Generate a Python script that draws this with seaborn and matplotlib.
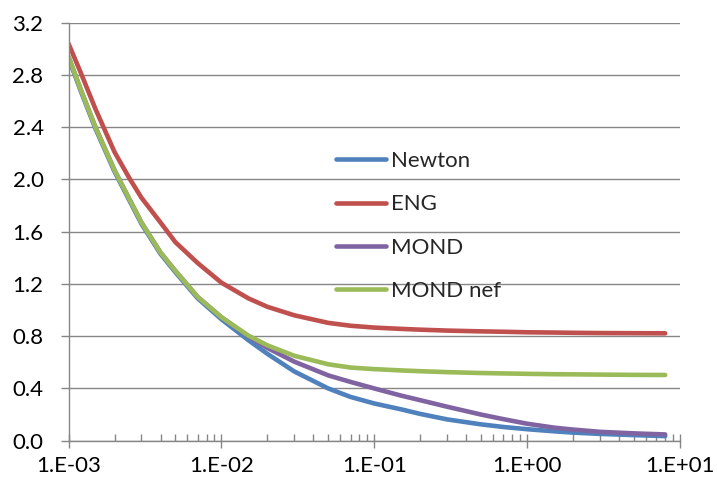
import numpy as np
import pandas as pd
import matplotlib
matplotlib.use("Agg")
import matplotlib.pyplot as plt
from matplotlib.ticker import FixedLocator, FuncFormatter, NullFormatter
import seaborn as sns

# ---- data ----
x_vals = [1e-3, 1.2e-3, 1.5e-3, 2e-3, 2.5e-3, 3e-3, 4e-3, 5e-3, 7e-3, 1e-2, 1.5e-2, 2e-2, 3e-2,
          5e-2, 7e-2, 0.1, 0.15, 0.2, 0.3, 0.5, 0.7, 1.0, 1.5, 2.0, 3.0, 5.0, 8.0]
newton = [2.93, 2.68, 2.39, 2.06, 1.84, 1.66, 1.43, 1.29, 1.09, 0.93, 0.77, 0.665, 0.53,
          0.40, 0.335, 0.285, 0.24, 0.205, 0.163, 0.125, 0.105, 0.088, 0.072,
          0.062, 0.052, 0.043, 0.035]
eng = [3.04, 2.82, 2.54, 2.21, 2.01, 1.86, 1.67, 1.52, 1.36, 1.21, 1.09, 1.025, 0.96,
       0.902, 0.88, 0.866, 0.856, 0.85, 0.843, 0.837, 0.834, 0.83, 0.828,
       0.826, 0.824, 0.823, 0.822]
mond = [2.94, 2.69, 2.40, 2.07, 1.85, 1.67, 1.44, 1.30, 1.10, 0.945, 0.80, 0.71, 0.605,
        0.50, 0.45, 0.40, 0.345, 0.31, 0.26, 0.20, 0.165, 0.13, 0.10,
        0.085, 0.068, 0.056, 0.048]
mond_nef = [2.94, 2.69, 2.40, 2.07, 1.85, 1.67, 1.44, 1.30, 1.10, 0.945, 0.805, 0.73, 0.65,
            0.585, 0.56, 0.548, 0.538, 0.532, 0.525, 0.518, 0.515, 0.512, 0.509,
            0.508, 0.506, 0.504, 0.503]
series_names = ["Newton", "ENG", "MOND", "MOND nef"]
colors = ["#4F81BD", "#C0504D", "#8064A2", "#9BBB59"]
y_ticks = [0.0, 0.4, 0.8, 1.2, 1.6, 2.0, 2.4, 2.8, 3.2]
x_ticks = [1e-3, 1e-2, 1e-1, 1e0, 1e1]

df = pd.concat([
    pd.DataFrame({"x": x_vals, "y": vals, "series": name})
    for name, vals in zip(series_names, [newton, eng, mond, mond_nef])
], ignore_index=True)

sns.set_style("white")
plt.rcParams["font.family"] = ["Lato", "DejaVu Sans"]

W, H = 717, 493
fig = plt.figure(figsize=(W / 100, H / 100), dpi=100)
left, right, top, bottom = 68.5, 680, 22.7, 440.7
ax = fig.add_axes([left / W, 1 - bottom / H, (right - left) / W, (bottom - top) / H])

gray = "#868686"
FS = 16
ax.set_xscale("log")
ax.set_xlim(1e-3, 1e1)
ax.set_ylim(0, 3.2)
ax.set_yticks(y_ticks)
ax.yaxis.grid(True, color=gray, linewidth=1.0)
ax.set_axisbelow(True)

sns.lineplot(data=df, x="x", y="y", hue="series", hue_order=series_names,
             palette=colors, estimator=None, sort=False, linewidth=3.3,
             ax=ax, legend=False)
for ln in ax.get_lines():
    ln.set_solid_capstyle("round")
    ln.set_solid_joinstyle("round")

ax.xaxis.set_major_locator(FixedLocator(x_ticks))
ax.xaxis.set_major_formatter(FuncFormatter(lambda v, p: "1.E%+03d" % int(round(np.log10(v)))))
minors = [m * 10.0 ** e for e in range(-3, 1) for m in range(2, 10)]
ax.xaxis.set_minor_locator(FixedLocator(minors))
ax.xaxis.set_minor_formatter(NullFormatter())
ax.yaxis.set_major_formatter(FuncFormatter(lambda v, p: "%.1f" % v))

for s in ["top", "right"]:
    ax.spines[s].set_visible(False)
for s in ["left", "bottom"]:
    ax.spines[s].set_color(gray)
    ax.spines[s].set_linewidth(1.0)

ax.tick_params(axis="x", which="both", bottom=True, top=False)
ax.tick_params(axis="y", which="both", left=True, right=False)
ax.tick_params(axis="x", which="major", direction="inout", length=10, width=1,
               color=gray, labelsize=FS, pad=6, labelcolor="black")
ax.tick_params(axis="x", which="minor", direction="in", length=5, width=1, color=gray)
ax.tick_params(axis="y", which="major", direction="out", length=6, width=1,
               color=gray, labelsize=FS, pad=12, labelcolor="black")
ax.set_xlabel("")
ax.set_ylabel("")

handles = [plt.Line2D([], [], color=c, linewidth=3.3, solid_capstyle="round") for c in colors]
ax.legend(handles, series_names, loc="upper left", frameon=False, fontsize=FS,
          bbox_to_anchor=(336 / W, 1 - 151 / H), bbox_transform=fig.transFigure,
          borderpad=0, borderaxespad=0, handlelength=2.25, handletextpad=0.22,
          labelspacing=1.05)

fig.savefig("out.png", dpi=100)
